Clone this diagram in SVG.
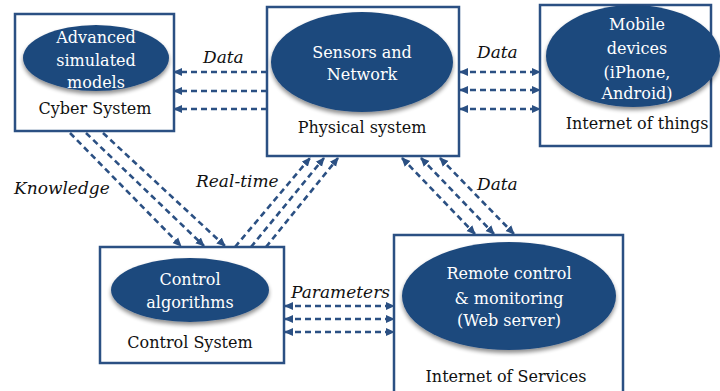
<svg xmlns="http://www.w3.org/2000/svg" width="720" height="391" viewBox="0 0 720 391" font-family="DejaVu Serif, serif">
<defs>
<style>
.box{fill:#fff;stroke:#2b5083;stroke-width:2.5}
.ell{fill:#1f497d;filter:url(#sh)}
.et{fill:#fff;font-size:16px;text-anchor:middle}
.bt{fill:#111;font-size:16px;text-anchor:middle}
.lb{fill:#111;font-size:17px;font-style:italic}
.c{fill:none;stroke:#2b5083;stroke-width:2.6;stroke-dasharray:6 4}
</style>
<filter id="sh" x="-10%" y="-10%" width="120%" height="130%">
<feGaussianBlur in="SourceAlpha" stdDeviation="2"/>
<feOffset dx="0" dy="3" result="b"/>
<feComponentTransfer><feFuncA type="linear" slope="0.45"/></feComponentTransfer>
<feMerge><feMergeNode/><feMergeNode in="SourceGraphic"/></feMerge>
</filter>
<marker id="ah" viewBox="0 0 10 10" refX="9" refY="5" markerWidth="9" markerHeight="9" markerUnits="userSpaceOnUse" orient="auto-start-reverse">
<path d="M0,0.5 L10,5 L0,9.5 z" fill="#2b5083"/>
</marker>
</defs>
<rect width="720" height="391" fill="#fff"/>

<g id="connectors">
<g id="cyber-physical">
<line class="c" x1="267" y1="72" x2="174" y2="72" marker-end="url(#ah)"/>
<line class="c" x1="267" y1="91" x2="174" y2="91" marker-end="url(#ah)"/>
<line class="c" x1="267" y1="109" x2="174" y2="109" marker-end="url(#ah)"/>
</g>
<g id="physical-mobile">
<line class="c" x1="460" y1="72" x2="540" y2="72" marker-start="url(#ah)" marker-end="url(#ah)"/>
<line class="c" x1="460" y1="90" x2="540" y2="90" marker-start="url(#ah)" marker-end="url(#ah)"/>
<line class="c" x1="460" y1="109" x2="540" y2="109" marker-start="url(#ah)" marker-end="url(#ah)"/>
</g>
<g id="knowledge">
<line class="c" x1="70" y1="133" x2="181" y2="246" marker-end="url(#ah)"/>
<line class="c" x1="86" y1="133" x2="204" y2="246" marker-end="url(#ah)"/>
<line class="c" x1="103" y1="133" x2="225" y2="246" marker-end="url(#ah)"/>
</g>
<g id="realtime">
<line class="c" x1="235" y1="247" x2="310" y2="158" marker-end="url(#ah)"/>
<line class="c" x1="251" y1="247" x2="324" y2="158" marker-end="url(#ah)"/>
<line class="c" x1="266" y1="247" x2="338" y2="158" marker-end="url(#ah)"/>
</g>
<g id="physical-services">
<line class="c" x1="402" y1="158" x2="475" y2="234" marker-start="url(#ah)" marker-end="url(#ah)"/>
<line class="c" x1="421" y1="158" x2="494" y2="234" marker-start="url(#ah)" marker-end="url(#ah)"/>
<line class="c" x1="440" y1="158" x2="514" y2="234" marker-start="url(#ah)" marker-end="url(#ah)"/>
</g>
<g id="control-services">
<line class="c" x1="285" y1="306" x2="394" y2="306" marker-start="url(#ah)" marker-end="url(#ah)"/>
<line class="c" x1="285" y1="319" x2="394" y2="319" marker-start="url(#ah)" marker-end="url(#ah)"/>
<line class="c" x1="285" y1="332" x2="394" y2="332" marker-start="url(#ah)" marker-end="url(#ah)"/>
</g>
<text class="lb" x="203" y="63">Data</text>
<text class="lb" x="477" y="58">Data</text>
<text class="lb" x="14" y="194">Knowledge</text>
<text class="lb" x="196" y="187">Real-time</text>
<text class="lb" x="477" y="190">Data</text>
<text class="lb" x="291" y="298">Parameters</text>
</g>

<g id="cyber">
<rect class="box" x="15" y="14" width="159" height="117"/>
<ellipse class="ell" cx="96" cy="58" rx="73" ry="33"/>
<text class="et" x="96" y="43">Advanced</text>
<text class="et" x="96" y="66">simulated</text>
<text class="et" x="96" y="88">models</text>
<text class="bt" x="95" y="114">Cyber System</text>
</g>

<g id="physical">
<rect class="box" x="267" y="7" width="192" height="149"/>
<ellipse class="ell" cx="362" cy="62" rx="91" ry="50"/>
<text class="et" x="362" y="58">Sensors and</text>
<text class="et" x="362" y="80">Network</text>
<text class="bt" x="362" y="133">Physical system</text>
</g>

<g id="mobile">
<rect class="box" x="540" y="5" width="171" height="141"/>
<ellipse class="ell" cx="633" cy="56" rx="87" ry="51"/>
<text class="et" x="637" y="30">Mobile</text>
<text class="et" x="637" y="54">devices</text>
<text class="et" x="637" y="78">(iPhone,</text>
<text class="et" x="637" y="99">Android)</text>
<text class="bt" x="637" y="129">Internet of things</text>
</g>

<g id="control">
<rect class="box" x="100" y="247" width="184" height="116"/>
<ellipse class="ell" cx="190" cy="290" rx="79" ry="32"/>
<text class="et" x="190" y="285">Control</text>
<text class="et" x="190" y="308">algorithms</text>
<text class="bt" x="190" y="348">Control System</text>
</g>

<g id="services">
<rect class="box" x="394" y="235" width="229" height="170"/>
<ellipse class="ell" cx="509" cy="296" rx="107" ry="54"/>
<text class="et" x="509" y="279">Remote control</text>
<text class="et" x="509" y="304">&amp; monitoring</text>
<text class="et" x="509" y="326">(Web server)</text>
<text class="bt" x="506" y="382">Internet of Services</text>
</g>
</svg>
